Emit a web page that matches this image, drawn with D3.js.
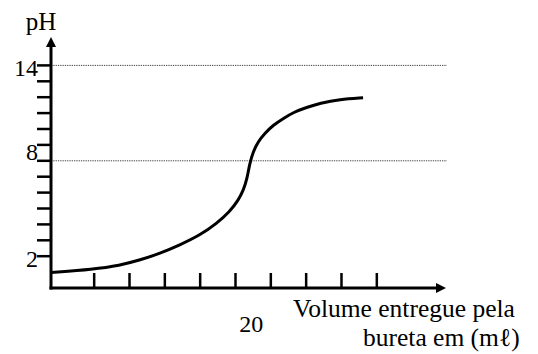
<!DOCTYPE html>
<html>
<head>
<meta charset="utf-8">
<script src="https://cdn.jsdelivr.net/npm/d3@7"></script>
<style>
  html, body { margin: 0; padding: 0; background: #fff; }
  svg { display: block; }
  svg text { font-family: "Liberation Serif", "Times New Roman", "DejaVu Serif", serif; fill: #000; }
</style>
</head>
<body>
<svg id="chart" width="538" height="354" font-family="Liberation Serif, serif"></svg>
<script>
// ---- data ----
const volume = [0, 4.3, 7.0, 9.1, 11.1, 13.1, 15.2, 16.9, 18.2, 19.1, 19.6, 19.95, 20.25, 20.6, 21.1, 21.8, 22.65, 23.7, 24.7, 26.05, 27.4, 29.4, 31.8];
const pH     = [0.97, 1.18, 1.42, 1.76, 2.18, 2.70, 3.33, 4.07, 4.80, 5.53, 6.16, 6.79, 7.84, 8.57, 9.20, 9.73, 10.25, 10.67, 11.05, 11.36, 11.62, 11.87, 11.97];
const yTicks = [2, 3, 4, 5, 6, 7, 8, 9, 10, 11, 12, 13, 14];
const yTickLabels = ["2", "8", "14"];
const xTicks = [4.4, 8.0, 11.6, 15.2, 18.8, 22.4, 26.0, 29.6, 33.2];
const xTickLabels = ["20"];
const refLines = [14, 8];
const xTitle = ["Volume entregue pela", "bureta em (m\u2113)"];
const yTitle = "pH";

// ---- layout ----
const svg = d3.select("#chart");
const x0 = 51, xEnd = 446, y0 = 288, yTop = 37;
const x = d3.scaleLinear().domain([0, 40.25]).range([x0, xEnd]);
const y = d3.scaleLinear().domain([0, 14]).range([y0, 65.4]);

// dotted reference lines
svg.selectAll("line.ref").data(refLines).enter().append("line")
  .attr("x1", x0).attr("x2", xEnd + 1)
  .attr("y1", d => y(d)).attr("y2", d => y(d))
  .attr("stroke", "#444").attr("stroke-width", 1)
  .attr("stroke-dasharray", "1.3,1");

// y ticks
svg.selectAll("line.yt").data(yTicks).enter().append("line")
  .attr("x1", x0 - 14).attr("x2", x0)
  .attr("y1", d => y(d)).attr("y2", d => y(d))
  .attr("stroke", "#000").attr("stroke-width", 2.5);

// x ticks
svg.selectAll("line.xt").data(xTicks).enter().append("line")
  .attr("x1", d => x(d)).attr("x2", d => x(d))
  .attr("y1", y0 - 15).attr("y2", y0)
  .attr("stroke", "#000").attr("stroke-width", 2.5);

// axes
svg.append("line").attr("x1", x0).attr("x2", x0).attr("y1", y0 + 1.5).attr("y2", yTop + 8)
  .attr("stroke", "#000").attr("stroke-width", 3);
svg.append("line").attr("x1", x0 - 1.5).attr("x2", xEnd - 6).attr("y1", y0).attr("y2", y0)
  .attr("stroke", "#000").attr("stroke-width", 3);
// arrow heads
svg.append("path").attr("d", `M${x0},${yTop} L${x0 - 5},${yTop + 10} L${x0 + 5},${yTop + 10} Z`).attr("fill", "#000");
svg.append("path").attr("d", `M${xEnd},${y0} L${xEnd - 10},${y0 - 5} L${xEnd - 10},${y0 + 5} Z`).attr("fill", "#000");

// y tick labels
const lift = { "8": 12 };
svg.selectAll("text.yl").data(yTickLabels).enter().append("text")
  .attr("x", x0 - 13).attr("y", d => y(+d) + 11 - (lift[d] || 0))
  .attr("text-anchor", "end").attr("font-size", 24).text(d => d);

// x tick labels
svg.selectAll("text.xl").data(xTickLabels).enter().append("text")
  .attr("x", d => x(+d) + 4).attr("y", 332)
  .attr("text-anchor", "middle").attr("font-size", 24).text(d => d);

// titles
svg.append("text").attr("x", x0 - 10).attr("y", 30).attr("text-anchor", "middle")
  .attr("font-size", 25).text(yTitle);
svg.append("text").attr("x", 293).attr("y", 317).attr("font-size", 25.5).text(xTitle[0]);
svg.append("text").attr("x", 363).attr("y", 346).attr("font-size", 25.5).text(xTitle[1]);

// curve
const pts = volume.map((v, i) => [v, pH[i]]);
svg.append("path").datum(pts)
  .attr("d", d3.line().x(d => x(d[0])).y(d => y(d[1])).curve(d3.curveBasis))
  .attr("fill", "none").attr("stroke", "#000").attr("stroke-width", 3);
</script>
</body>
</html>
